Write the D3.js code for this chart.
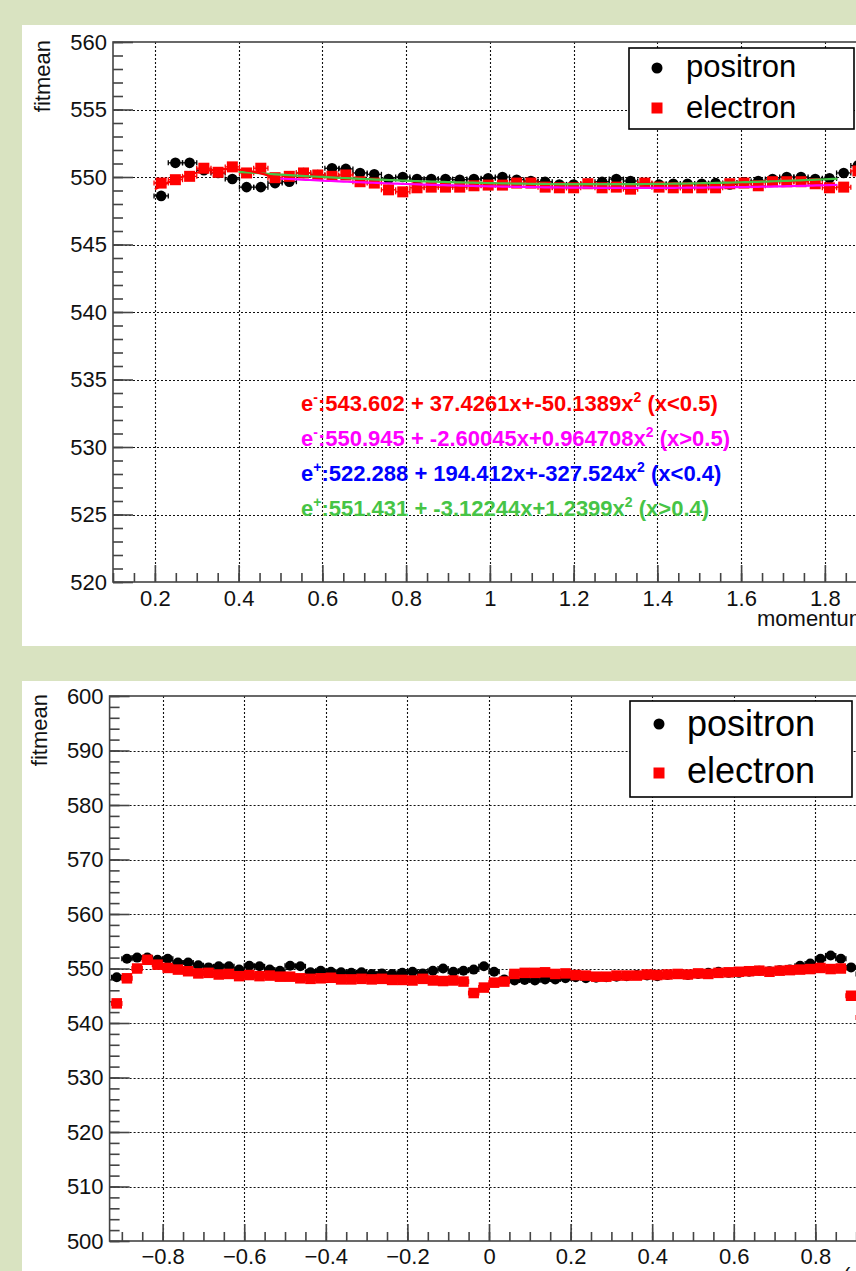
<!DOCTYPE html>
<html>
<head>
<meta charset="utf-8">
<script src="https://cdn.jsdelivr.net/npm/d3@7"></script>
<style>
  body { margin: 0; background: #d9e3c1; overflow: hidden; }
  svg { display: block; font-family: "Liberation Sans", Arial, sans-serif; }
</style>
</head>
<body>
<div id="chart"></div>
<script>
(function () {

    // top panel: fit mean vs momentum
    const momentumBins = [
        0.215, 0.249, 0.283, 0.317, 0.351, 0.385, 0.419, 0.453, 0.487, 0.521,
        0.555, 0.589, 0.623, 0.656, 0.690, 0.724, 0.758, 0.792, 0.826, 0.860,
        0.894, 0.928, 0.962, 0.996, 1.030, 1.064, 1.098, 1.132, 1.166, 1.200,
        1.234, 1.268, 1.302, 1.336, 1.370, 1.404, 1.438, 1.472, 1.506, 1.539,
        1.573, 1.607, 1.641, 1.675, 1.709, 1.743, 1.777, 1.811, 1.845, 1.879]
    const momentumPositron = [
        548.6, 551.05, 551.05, 550.5, 550.3, 549.85, 549.25, 549.25, 549.55, 549.65,
        550.3, 550.15, 550.65, 550.6, 550.3, 550.2, 549.85, 550.0, 549.85, 549.85,
        549.85, 549.8, 549.85, 549.9, 550.0, 549.8, 549.7, 549.65, 549.45, 549.45,
        549.5, 549.65, 549.85, 549.7, 549.5, 549.45, 549.5, 549.5, 549.5, 549.55,
        549.45, 549.6, 549.7, 549.85, 550.0, 550.0, 549.85, 549.9, 550.3, 550.85]
    const momentumElectron = [
        549.55, 549.8, 550.05, 550.65, 550.35, 550.75, 550.3, 550.65, 549.95, 550.05,
        550.3, 550.15, 550.05, 550.15, 549.65, 549.55, 549.05, 548.9, 549.2, 549.25,
        549.25, 549.25, 549.35, 549.4, 549.4, 549.55, 549.55, 549.25, 549.2, 549.2,
        549.5, 549.2, 549.25, 549.1, 549.55, 549.25, 549.2, 549.2, 549.2, 549.2,
        549.5, 549.55, 549.35, 549.65, 549.65, 549.65, 549.5, 549.2, 549.25, 550.45]
    const momentumTicks = [0.2, 0.4, 0.6, 0.8, 1, 1.2, 1.4, 1.6, 1.8]
    const momentumMeanTicks = [520, 525, 530, 535, 540, 545, 550, 555, 560]

    // bottom panel: fit mean vs cos(theta)
    const cosBins = [
        -0.9125, -0.8875, -0.8625, -0.8375, -0.8125, -0.7875, -0.7625, -0.7375, -0.7125, -0.6875,
        -0.6625, -0.6375, -0.6125, -0.5875, -0.5625, -0.5375, -0.5125, -0.4875, -0.4625, -0.4375,
        -0.4125, -0.3875, -0.3625, -0.3375, -0.3125, -0.2875, -0.2625, -0.2375, -0.2125, -0.1875,
        -0.1625, -0.1375, -0.1125, -0.0875, -0.0625, -0.0375, -0.0125, 0.0125, 0.0375, 0.0625,
        0.0875, 0.1125, 0.1375, 0.1625, 0.1875, 0.2125, 0.2375, 0.2625, 0.2875, 0.3125,
        0.3375, 0.3625, 0.3875, 0.4125, 0.4375, 0.4625, 0.4875, 0.5125, 0.5375, 0.5625,
        0.5875, 0.6125, 0.6375, 0.6625, 0.6875, 0.7125, 0.7375, 0.7625, 0.7875, 0.8125,
        0.8375, 0.8625, 0.8875, 0.9125]
    const cosPositron = [
        548.4, 551.8, 552.0, 552.0, 551.6, 551.8, 551.1, 551.1, 550.6, 550.2,
        550.4, 550.4, 549.8, 550.5, 550.4, 549.8, 549.6, 550.5, 550.4, 549.3,
        549.6, 549.4, 549.3, 549.2, 549.3, 549.0, 549.1, 549.0, 549.2, 549.4,
        549.1, 549.6, 550.0, 549.4, 549.6, 549.8, 550.4, 549.4, 548.0, 547.8,
        547.9, 547.8, 548.0, 548.0, 548.2, 548.4, 548.2, 548.3, 548.4, 548.5,
        548.6, 548.8, 548.7, 548.6, 548.8, 549.0, 548.8, 549.0, 549.2, 549.4,
        549.2, 549.2, 549.4, 549.6, 549.5, 549.7, 549.8, 550.5, 550.9, 551.8,
        552.4, 551.8, 550.2, 549.0]
    const cosElectron = [
        543.6, 548.2, 550.0, 551.6, 550.7, 550.1, 549.8, 549.5, 549.1, 549.2,
        548.9, 549.0, 548.6, 548.8, 548.6, 548.7, 548.5, 548.5, 548.2, 548.1,
        548.2, 548.3, 548.0, 548.0, 548.1, 548.0, 548.1, 547.9, 547.9, 547.8,
        548.1, 547.8, 547.7, 547.8, 547.6, 545.5, 546.5, 547.4, 547.6, 549.0,
        549.2, 549.2, 549.3, 549.0, 549.1, 548.8, 548.7, 548.5, 548.5, 548.7,
        548.7, 548.7, 548.9, 548.8, 548.9, 549.0, 548.9, 549.1, 549.0, 549.2,
        549.3, 549.4, 549.5, 549.6, 549.4, 549.6, 549.7, 549.8, 549.9, 550.1,
        549.9, 550.0, 545.0, 541.0]
    const cosTicks = [-0.8, -0.6, -0.4, -0.2, 0, 0.2, 0.4, 0.6, 0.8]
    const cosMeanTicks = [500, 510, 520, 530, 540, 550, 560, 570, 580, 590, 600]

    // quadratic fits printed on the top panel
    const fitCharges = ["-", "-", "+", "+"]
    const fitCoeffs = [
        [543.602, 37.4261, -50.1389],
        [550.945, -2.60045, 0.964708],
        [522.288, 194.412, -327.524],
        [551.431, -3.12244, 1.2399]]
    const fitCuts = ["x<0.5", "x>0.5", "x<0.4", "x>0.4"]
    const fitRanges = [[0.2, 0.5], [0.5, 1.83], [0.2, 0.4], [0.4, 1.83]]
    const fitColors = ["#ff0000", "#ff00ff", "#0000ff", "#46c446"]
    const fitShown = [true, true, false, true]

    const legendLabels = ["positron", "electron"]

    const W = 856, H = 1271

    const svg = d3.select("#chart")
        .append("svg")
        .attr("width", W)
        .attr("height", H)

    svg.append("rect").attr("width", W).attr("height", H).attr("fill", "#d9e3c1")

    const fmt = d3.format("~g")
    const poly = c => v => c[0] + c[1] * v + c[2] * v * v

    function drawPanel(o) {
        const g = svg.append("g")
        g.append("rect")
            .attr("x", 22).attr("y", o.panel[0])
            .attr("width", W - 22).attr("height", o.panel[1] - o.panel[0])
            .attr("fill", "#fff")

        const x = d3.scaleLinear().domain(o.xDomain).range([o.left, o.right])
        const y = d3.scaleLinear().domain(o.yDomain).range([o.bottom, o.top])

        // dotted grid
        const grid = g.append("g")
            .attr("stroke", "#111")
            .attr("stroke-width", 1.1)
            .attr("stroke-dasharray", "2,2")
        grid.selectAll("line.gx")
            .data(o.xTicks.filter(d => d > o.xDomain[0] && d < o.xDomain[1]))
            .enter().append("line")
            .attr("x1", d => Math.round(x(d)) + 0.5).attr("x2", d => Math.round(x(d)) + 0.5)
            .attr("y1", o.top).attr("y2", o.bottom)
        grid.selectAll("line.gy")
            .data(o.yTicks.filter(d => d > o.yDomain[0] && d < o.yDomain[1]))
            .enter().append("line")
            .attr("x1", o.left).attr("x2", o.right)
            .attr("y1", d => Math.round(y(d)) + 0.5).attr("y2", d => Math.round(y(d)) + 0.5)

        // frame
        g.append("rect")
            .attr("x", o.left).attr("y", o.top)
            .attr("width", o.right - o.left).attr("height", o.bottom - o.top)
            .attr("fill", "none").attr("stroke", "#444").attr("stroke-width", 1.6)

        const xMinor = d3.range(Math.ceil(o.xDomain[0] / o.xMinor) * o.xMinor, o.xDomain[1] + 1e-9, o.xMinor)
        const yMinor = d3.range(o.yDomain[0], o.yDomain[1] + 1e-9, o.yMinor)

        const styleAxis = sel => {
            sel.select(".domain").remove()
            sel.selectAll("line").attr("stroke", "#444").attr("stroke-width", 1.6)
            sel.selectAll("text")
                .attr("fill", "#111")
                .style("font-size", "22px")
                .style("font-family", "'Liberation Sans', Arial, sans-serif")
        }

        g.append("g")
            .attr("transform", `translate(0,${o.bottom})`)
            .call(d3.axisBottom(x).tickValues(xMinor).tickSize(-9).tickFormat(""))
            .call(styleAxis)
        g.append("g")
            .attr("transform", `translate(0,${o.bottom})`)
            .call(d3.axisBottom(x).tickValues(o.xTicks).tickSize(-17).tickPadding(o.xPad).tickFormat(fmt))
            .call(styleAxis)
        g.append("g")
            .attr("transform", `translate(${o.left},0)`)
            .call(d3.axisLeft(y).tickValues(yMinor).tickSize(-10).tickFormat(""))
            .call(styleAxis)
        g.append("g")
            .attr("transform", `translate(${o.left},0)`)
            .call(d3.axisLeft(y).tickValues(o.yTicks).tickSize(-20).tickPadding(6).tickFormat(fmt))
            .call(styleAxis)

        g.append("text")
            .attr("transform", `translate(${o.titleX},${o.top - 2}) rotate(-90)`)
            .attr("text-anchor", "end")
            .attr("dy", "0.72em")
            .attr("fill", "#111")
            .style("font-size", "22px")
            .text("fitmean")

        g.append("text")
            .attr("x", o.xTitle[0]).attr("y", o.xTitle[1])
            .attr("fill", "#111")
            .style("font-size", "22px")
            .text(o.xLabel)

        return { g, x, y }
    }

    function drawSeries(p, bins, positron, electron, halfBin, r, side, between) {
        const pRows = bins.map((b, i) => ({ b, v: positron[i] }))
        const eRows = bins.map((b, i) => ({ b, v: electron[i] }))

        const errBars = (sel, rows, colour) => {
            const eg = sel.append("g").attr("stroke", colour).attr("stroke-width", 1.3)
            eg.selectAll("line.h").data(rows).enter().append("line")
                .attr("x1", d => p.x(d.b - halfBin)).attr("x2", d => p.x(d.b + halfBin))
                .attr("y1", d => p.y(d.v)).attr("y2", d => p.y(d.v))
            eg.selectAll("line.l").data(rows).enter().append("line")
                .attr("x1", d => p.x(d.b - halfBin)).attr("x2", d => p.x(d.b - halfBin))
                .attr("y1", d => p.y(d.v) - 2.5).attr("y2", d => p.y(d.v) + 2.5)
            eg.selectAll("line.r").data(rows).enter().append("line")
                .attr("x1", d => p.x(d.b + halfBin)).attr("x2", d => p.x(d.b + halfBin))
                .attr("y1", d => p.y(d.v) - 2.5).attr("y2", d => p.y(d.v) + 2.5)
        }

        const s = p.g.append("g")
        errBars(s, pRows, "#000")
        s.append("g").selectAll("circle")
            .data(pRows).enter().append("circle")
            .attr("cx", d => p.x(d.b)).attr("cy", d => p.y(d.v))
            .attr("r", r).attr("fill", "#000")

        if (between) between()

        errBars(s, eRows, "#ff0000")
        s.append("g").selectAll("rect")
            .data(eRows).enter().append("rect")
            .attr("x", d => p.x(d.b) - side / 2).attr("y", d => p.y(d.v) - side / 2)
            .attr("width", side).attr("height", side)
            .attr("fill", "#ff0000")
    }

    function drawLegend(box, r, side, fontSize, rows) {
        const lg = svg.append("g")
        lg.append("rect")
            .attr("x", box[0]).attr("y", box[1])
            .attr("width", box[2] - box[0]).attr("height", box[3] - box[1])
            .attr("fill", "#fff").attr("stroke", "#000").attr("stroke-width", 1.6)
        lg.append("circle")
            .attr("cx", rows.markerX).attr("cy", rows.y[0]).attr("r", r).attr("fill", "#000")
        lg.append("rect")
            .attr("x", rows.markerX - side / 2).attr("y", rows.y[1] - side / 2)
            .attr("width", side).attr("height", side).attr("fill", "#ff0000")
        lg.selectAll("text")
            .data(legendLabels).enter().append("text")
            .attr("x", rows.textX)
            .attr("y", (d, i) => rows.base[i])
            .attr("fill", "#000")
            .style("font-size", fontSize + "px")
            .text(d => d)
    }

    // ---- top panel ----
    const top = drawPanel({
        panel: [25, 646],
        left: 113, right: 908.6, top: 42, bottom: 582,
        xDomain: [0.1, 2.0], yDomain: [520, 560],
        xTicks: momentumTicks, yTicks: momentumMeanTicks,
        xMinor: 0.05, yMinor: 1, xPad: 8,
        titleX: 34, xTitle: [757, 626], xLabel: "momentum (GeV/c)"
    })

    const fitLine = (i) => {
        const xs = d3.range(fitRanges[i][0], fitRanges[i][1] + 1e-9, 0.01)
        const f = poly(fitCoeffs[i])
        top.g.append("path")
            .datum(xs)
            .attr("fill", "none")
            .attr("stroke", fitColors[i])
            .attr("stroke-width", 2.2)
            .attr("d", d3.line().x(d => top.x(d)).y(d => top.y(f(d))))
    }

    drawSeries(top, momentumBins, momentumPositron, momentumElectron, 0.017, 5.3, 11,
        () => fitShown.forEach((s, i) => { if (s && fitCharges[i] === "+") fitLine(i) }))
    fitShown.forEach((s, i) => { if (s && fitCharges[i] === "-") fitLine(i) })

    // fit formulas
    const fitText = top.g.append("g").style("font-weight", "bold").style("font-size", "22px")
    fitCoeffs.forEach((c, i) => {
        const t = fitText.append("text")
            .attr("x", 301).attr("y", 411 + i * 35)
            .attr("fill", fitColors[i])
        t.append("tspan").text("e")
        t.append("tspan").attr("dy", -9).style("font-size", "14px").text(fitCharges[i])
        t.append("tspan").attr("dy", 9).text(`:${c[0]} + ${c[1]}x+${c[2]}x`)
        t.append("tspan").attr("dy", -9).style("font-size", "14px").text("2")
        t.append("tspan").attr("dy", 9).text(` (${fitCuts[i]})`)
    })

    drawLegend([629, 48, 854, 129], 5.5, 11, 31,
        { markerX: 657, y: [68, 108], textX: 686, base: [77, 118] })

    // ---- bottom panel ----
    const bottom = drawPanel({
        panel: [681, H],
        left: 109.6, right: 868.4, top: 696, bottom: 1241,
        xDomain: [-0.93, 0.93], yDomain: [500, 600],
        xTicks: cosTicks, yTicks: cosMeanTicks,
        xMinor: 0.05, yMinor: 2, xPad: 7,
        titleX: 31, xTitle: [843, 1283], xLabel: "(cos\u03b8)"
    })

    drawSeries(bottom, cosBins, cosPositron, cosElectron, 0.0125, 5, 10.5)

    drawLegend([630, 701, 852, 797], 5.5, 11, 36,
        { markerX: 659, y: [724, 773], textX: 687, base: [736, 783] })

})()
</script>
</body>
</html>
